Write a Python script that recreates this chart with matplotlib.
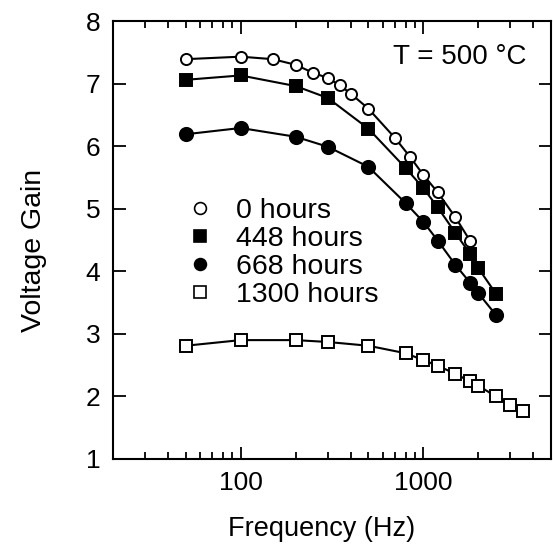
import matplotlib
matplotlib.use("Agg")
import matplotlib.pyplot as plt
from matplotlib.lines import Line2D
from matplotlib.ticker import FixedLocator, NullFormatter

plt.rcParams['font.family'] = ['Liberation Sans', 'DejaVu Sans']

# Data
freq_0 = [50, 100, 150, 200, 250, 300, 350, 400, 500, 700, 850, 1000, 1200, 1500, 1800]
gain_0 = [7.39, 7.43, 7.39, 7.30, 7.17, 7.09, 6.97, 6.84, 6.60, 6.13, 5.82, 5.54, 5.26, 4.86, 4.49]

freq_448 = [50, 100, 200, 300, 500, 800, 1000, 1200, 1500, 1800, 2000, 2500]
gain_448 = [7.06, 7.13, 6.96, 6.77, 6.28, 5.65, 5.33, 5.02, 4.61, 4.28, 4.05, 3.64]

freq_668 = [50, 100, 200, 300, 500, 800, 1000, 1200, 1500, 1800, 2000, 2500]
gain_668 = [6.19, 6.29, 6.15, 5.99, 5.67, 5.09, 4.79, 4.49, 4.10, 3.82, 3.65, 3.30]

freq_1300 = [50, 100, 200, 300, 500, 800, 1000, 1200, 1500, 1800, 2000, 2500, 3000, 3500]
gain_1300 = [2.81, 2.90, 2.90, 2.87, 2.81, 2.69, 2.58, 2.49, 2.36, 2.24, 2.17, 2.00, 1.87, 1.77]

labels = ['0 hours', '448 hours', '668 hours', '1300 hours']

fig = plt.figure(figsize=(5.53, 5.47), dpi=100)
ax = fig.add_axes([0.2043, 0.1609, 0.7921, 0.8007])

# (freq, gain, marker, face colour, marker size)
series = [
    (freq_0, gain_0, 'o', 'white', 8),
    (freq_448, gain_448, 's', 'black', 9),
    (freq_668, gain_668, 'o', 'black', 9.5),
    (freq_1300, gain_1300, 's', 'white', 9),
]

handles = []
for (f, g, m, fc, ms), lab in zip(series, labels):
    ax.plot(f, g, color='black', lw=1.5, marker=m, ms=ms,
            mfc=fc, mec='black', mew=1.4)
    handles.append(Line2D([], [], ls='none', marker=m, ms=8.5,
                          mfc=fc, mec='black', mew=1.2, label=lab))

ax.set_xscale('log')
ax.set_xlim(20, 5000)
ax.set_ylim(1, 8)
ax.set_yticks(range(1, 9))
ax.set_xticks([100, 1000])
ax.set_xticklabels(['100', '1000'])
ax.xaxis.set_minor_locator(FixedLocator([30, 40, 50, 60, 70, 80, 90,
                                         200, 300, 400, 500, 600, 700, 800, 900,
                                         2000, 3000, 4000]))
ax.xaxis.set_minor_formatter(NullFormatter())

ax.tick_params(which='both', direction='in', top=True, right=True, width=1.3,
               labelsize=19, pad=9)
ax.tick_params(which='major', length=9)
ax.tick_params(which='minor', length=5)
for s in ax.spines.values():
    s.set_linewidth(1.5)

ax.set_xlabel('Frequency (Hz)', fontsize=19.5, va='top')
ax.xaxis.set_label_coords(0.477, -0.13)
ax.set_ylabel('Voltage Gain', fontsize=20.5)
ax.yaxis.set_label_coords(-0.15, 0.477)

ax.text(0.945, 0.918, 'T = 500 °C', transform=ax.transAxes, ha='right',
        va='center', fontsize=20)

ax.legend(handles=handles, loc='upper left', bbox_to_anchor=(0.167, 0.597),
          frameon=False, fontsize=20.5, handlelength=1.0, handletextpad=0.75,
          labelspacing=0.08, borderaxespad=0, borderpad=0)

fig.savefig('out.png', dpi=100)
